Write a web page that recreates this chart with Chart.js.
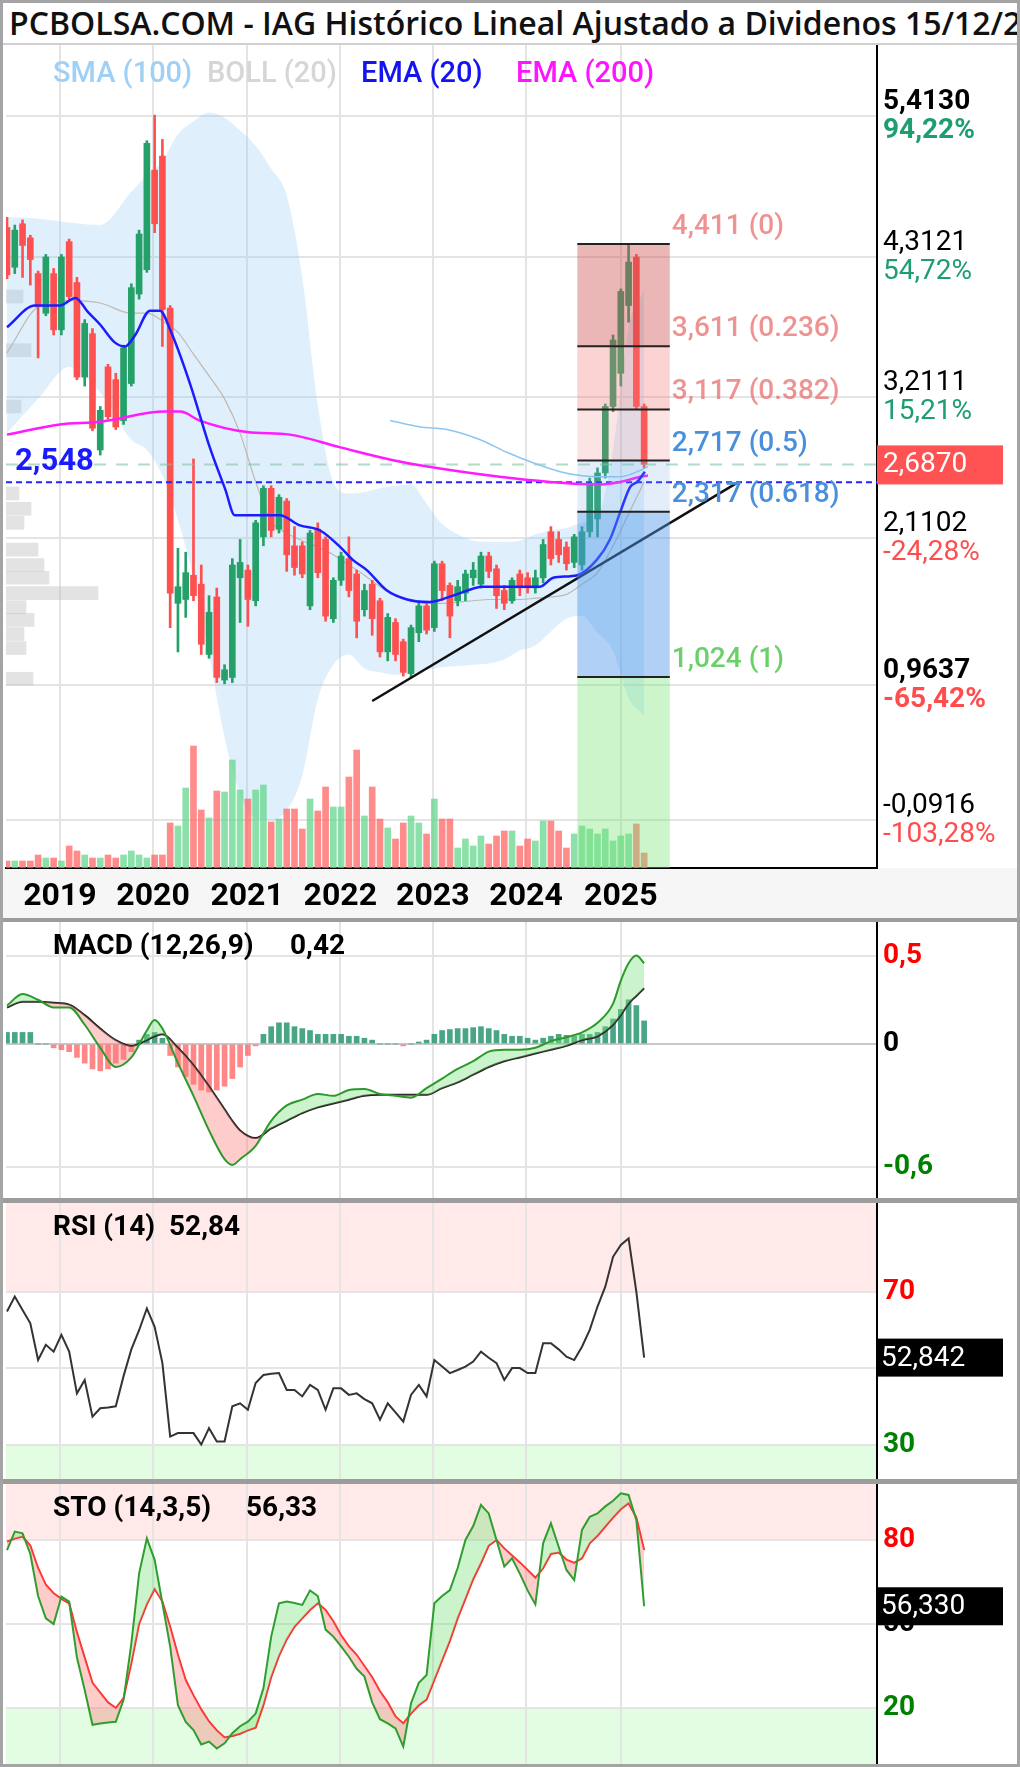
<!DOCTYPE html>
<html lang="es">
<head>
<meta charset="UTF-8">
<meta name="viewport" content="width=device-width, initial-scale=1.0">
<title>IAG Histórico Lineal Ajustado a Dividendos</title>
<script src="https://cdn.jsdelivr.net/npm/chart.js"></script>
<style>
  body { margin: 0; background: #fff; font-family: Roboto, sans-serif; }
  #page { position: relative; width: 1020px; height: 1767px; overflow: hidden; background: #fff; }
  #page > * { position: absolute; }
  #title { left: 0; top: 0; width: 1020px; height: 45px; box-sizing: border-box; padding-left: 9px;
           font: 600 32px/46px "Open Sans", sans-serif; color: #111; white-space: nowrap; overflow: hidden;
           border-bottom: 2px solid #d0d0d0; background: #fff; }
  .leg { top: 55px; font: 500 29px Roboto, sans-serif; white-space: nowrap; }
  .sep { left: 0; width: 1020px; background: #9c9c9c; }
  #xband { left: 0; top: 868px; width: 1020px; height: 50px; background: #f6f6f6; }
  #frame { left: 0; top: 0; width: 1020px; height: 1767px; box-sizing: border-box; border: 3px solid #a4a4a4; pointer-events: none; }
</style>
</head>
<body>
<div id="page">
  <div id="xband"></div>
  <canvas id="main" width="1020" height="873" style="top:45px;left:0"></canvas>
  <div class="sep" style="top:918px;height:4px"></div>
  <canvas id="macd" width="1020" height="276" style="top:922px;left:0"></canvas>
  <div class="sep" style="top:1198px;height:5px"></div>
  <canvas id="rsi" width="1020" height="276" style="top:1203px;left:0"></canvas>
  <div class="sep" style="top:1479px;height:5px"></div>
  <canvas id="sto" width="1020" height="280" style="top:1484px;left:0"></canvas>
  <div id="title">PCBOLSA.COM - IAG Histórico Lineal Ajustado a Dividenos 15/12/2025</div>
  <div class="leg" style="left:53px;color:#9fd0f6">SMA (100)</div>
  <div class="leg" style="left:207px;color:#d6d6d6">BOLL (20)</div>
  <div class="leg" style="left:361px;color:#1414f0">EMA (20)</div>
  <div class="leg" style="left:516px;color:#ff14ff">EMA (200)</div>
  <div id="frame"></div>
</div>

<script>
// monthly candles, index 0 = Jun 2018
const yearLabels  = ['2019', '2020', '2021', '2022', '2023', '2024', '2025'];
const yearTickIdx = [6.8, 18.8, 30.9, 42.9, 54.8, 66.8, 79.0];

const open = [4.54,4.23,4.57,4.46,4.18,3.87,4.18,3.74,4.43,4.11,
  3.37,3.71,2.80,3.45,3.35,3.03,3.32,4.02,4.21,4.99,
  5.10,3.91,1.60,1.63,1.82,1.75,1.20,1.65,1.00,1.02,
  1.80,1.86,1.62,2.12,2.50,2.18,2.40,2.05,2.05,1.58,
  2.18,2.10,1.48,1.78,1.95,1.83,1.55,1.75,1.62,1.22,
  1.45,1.30,1.05,1.37,1.58,1.41,1.91,1.74,1.62,1.68,
  1.80,1.75,1.97,1.87,1.70,1.62,1.83,1.80,1.72,1.80,
  2.16,2.10,2.04,1.92,1.90,2.16,2.26,2.62,3.14,3.40,
  3.93,4.31,3.14];
const high = [4.62,4.56,4.60,4.48,4.20,4.33,4.22,4.33,4.45,4.15,
  3.82,3.75,3.14,3.47,3.40,3.62,4.10,4.52,5.22,5.42,
  5.23,3.93,2.03,2.00,2.73,1.90,1.66,1.72,1.12,1.95,
  2.10,1.90,2.25,2.52,2.52,2.45,2.42,2.20,2.08,2.17,
  2.23,2.12,1.80,2.00,2.12,1.86,1.75,1.78,1.64,1.52,
  1.48,1.32,1.43,1.62,1.60,1.93,1.93,1.76,1.78,1.86,
  1.92,2.00,2.00,1.90,1.74,1.80,1.86,1.84,1.86,2.10,
  2.20,2.16,2.08,2.14,2.20,2.58,2.66,3.16,3.70,4.06,
  4.41,4.33,3.16];
const low = [4.14,4.18,4.15,4.09,3.52,3.85,3.70,3.70,3.98,3.35,
  3.30,2.95,2.76,3.04,2.96,3.00,3.30,3.98,4.19,4.50,
  3.61,1.41,1.22,1.49,1.62,1.20,1.17,0.98,0.97,0.98,
  1.45,1.42,1.58,2.05,2.12,2.15,1.85,1.82,1.80,1.55,
  1.80,1.46,1.45,1.74,1.65,1.33,1.50,1.35,1.18,1.15,
  1.15,1.03,1.02,1.30,1.36,1.38,1.62,1.33,1.58,1.62,
  1.74,1.72,1.80,1.56,1.55,1.60,1.66,1.68,1.68,1.76,
  1.90,1.92,1.86,1.88,1.86,2.12,2.12,2.58,3.10,3.30,
  3.80,3.12,2.66];
const close = [4.17,4.52,4.40,4.29,3.92,4.31,3.74,4.31,4.00,3.37,
  3.79,2.97,3.11,3.06,2.98,3.60,4.07,4.49,5.20,4.57,
  3.90,1.68,1.73,1.84,1.66,1.28,1.53,1.02,1.08,1.90,
  1.92,1.63,2.23,2.50,2.17,2.43,1.98,1.88,1.83,2.15,
  1.84,1.50,1.78,1.97,1.70,1.46,1.70,1.48,1.22,1.49,
  1.20,1.06,1.41,1.58,1.39,1.91,1.70,1.50,1.73,1.83,
  1.86,1.97,1.85,1.66,1.60,1.78,1.72,1.72,1.80,2.06,
  1.95,1.98,1.91,2.12,2.16,2.54,2.62,3.14,3.66,4.04,
  4.27,3.14,2.687];
// relative volume
const volume = [7,7,7,7,13,10,10,7,22,17,13,10,10,13,10,13,17,13,10,13,13,
  45,42,80,122,58,50,77,76,108,78,69,78,83,46,49,59,59,39,69,57,81,61,
  61,91,118,52,81,49,40,29,45,52,45,34,69,49,49,20,29,22,32,24,32,37,37,
  22,29,27,47,47,37,20,34,42,39,34,39,27,32,34,44,15];

// overlays: [candle index, price]
const ema20 = [[0,3.76],[3.6,3.93],[6.8,3.93],[8.8,3.99],[10.4,3.88],[12,3.78],[13.9,3.64],[15.2,3.61],
  [16.5,3.70],[18.4,3.89],[19.7,3.89],[21,3.74],[23.6,3.31],[26.1,2.82],[28.1,2.49],[29.3,2.29],
  [35.1,2.29],[37.7,2.21],[40.3,2.17],[42.9,2.04],[44.5,1.94],[46.3,1.86],[48.9,1.70],[51.5,1.63],
  [54.4,1.61],[57.4,1.66],[61.3,1.73],[68.6,1.73],[70.3,1.80],[73.4,1.82],[75.9,1.94],[77.6,2.10],
  [78.9,2.31],[80.2,2.51],[81.1,2.55],[82.1,2.63]];
const ema200 = [[0,2.92],[6.8,3.00],[12,3.02],[20.3,3.10],[22.3,3.10],[24.8,3.03],[30.9,2.94],
  [36.4,2.92],[42.9,2.82],[49.7,2.72],[54.1,2.67],[63.4,2.59],[69.9,2.55],[75.9,2.53],[78.9,2.55],
  [81.5,2.59],[82.5,2.60]];
const sma100 = [[49.3,3.03],[53.2,2.98],[56.6,2.96],[60.9,2.88],[64.4,2.78],[67.7,2.70],[71.2,2.63],
  [73.8,2.60],[76.3,2.59],[78.9,2.59],[81.5,2.64],[82.5,2.67]];

const bbIdx   = [0,4,8,12,16,18,20,22,24,26,28,30,32,34,36,38,40,42,44,46,48,50,52,54,56,58,60,62,64,66,68,70,72,74,76,78,80,82];
const bbUpper = [4.62,4.61,4.58,4.56,4.82,4.95,5.06,5.27,5.37,5.44,5.40,5.30,5.18,5.00,4.79,4.15,3.15,2.55,2.46,2.47,
  2.50,2.52,2.53,2.38,2.22,2.14,2.09,2.08,2.08,2.09,2.14,2.17,2.19,2.23,2.28,2.80,3.75,4.05];
const bbLower = [2.93,3.20,3.45,3.25,2.88,2.80,2.60,2.25,1.80,1.20,0.55,0.10,-0.08,-0.10,-0.02,0.25,0.85,1.12,1.20,1.09,
  1.06,1.04,1.05,1.08,1.10,1.11,1.12,1.13,1.16,1.23,1.27,1.38,1.48,1.50,1.37,1.23,0.86,0.72];
const bbMid   = [3.56,3.92,3.97,3.95,3.87,3.87,3.81,3.72,3.55,3.38,3.20,2.93,2.55,2.24,2.15,2.09,2.04,1.98,1.90,1.82,
  1.73,1.66,1.62,1.60,1.60,1.61,1.62,1.63,1.63,1.63,1.64,1.65,1.67,1.75,1.84,2.05,2.30,2.55];

// volume profile (price level, relative volume)
const profilePrice = [4.00,3.58,3.14,2.46,2.34,2.23,2.02,1.90,1.80,1.68,1.57,1.47,1.36,1.25,1.01];
const profileVol   = [17,25,15,13,25,18,32,38,43,92,20,28,18,20,27];

const trend = [[47.0,0.836],[93.9,2.541]];
const supportLevel = 2.548;
const lastPrice = 2.687;
const fibLevels = [4.411, 3.611, 3.117, 2.717, 2.317, 1.024];
const fibRatios = ['0', '0.236', '0.382', '0.5', '0.618', '1'];
const fibRange  = [73.4, 85.3];

const priceTicks = [5.413, 4.3121, 3.2111, 2.1102, 0.9637, -0.0916];
const pctTicks   = [94.22, 54.72, 15.21, -24.28, -65.42, -103.28];
const periodHigh = 5.413, periodLow = 0.9637;

// MACD (12,26,9)
const macdIdx = [0,2,4,6,8,10,12,14,16,18,19,20,22,24,26,28,29,30,32,34,36,38,40,42,44,46,48,50,52,54,
  56,58,60,62,64,66,68,70,72,74,76,78,79,80,81,82];
const macdVal = [0.20,0.26,0.23,0.19,0.19,0.10,-0.02,-0.12,-0.07,0.07,0.125,0.08,-0.10,-0.27,-0.45,-0.60,-0.63,-0.60,-0.53,-0.40,
  -0.32,-0.29,-0.26,-0.27,-0.24,-0.235,-0.26,-0.27,-0.28,-0.23,-0.18,-0.13,-0.09,-0.04,-0.03,-0.03,-0.02,0.015,0.035,0.06,
  0.11,0.21,0.33,0.42,0.46,0.42];
const signalVal = [0.19,0.22,0.22,0.215,0.205,0.15,0.08,0.02,-0.01,0.02,0.04,0.05,-0.02,-0.11,-0.22,-0.34,-0.40,-0.45,-0.49,-0.44,
  -0.40,-0.36,-0.33,-0.31,-0.29,-0.27,-0.265,-0.265,-0.265,-0.265,-0.23,-0.20,-0.16,-0.12,-0.09,-0.07,-0.05,-0.03,-0.01,0.02,
  0.04,0.10,0.15,0.21,0.25,0.29];
const hist = [0.06,0.06,0.06,0.06,0,0,-0.02,-0.03,-0.04,-0.07,
  -0.10,-0.13,-0.14,-0.13,-0.10,-0.08,-0.04,0.02,0.05,0.06,
  0.03,-0.06,-0.12,-0.17,-0.21,-0.24,-0.25,-0.24,-0.22,-0.18,
  -0.12,-0.06,-0.01,0.05,0.09,0.11,0.11,0.09,0.08,0.07,
  0.05,0.05,0.05,0.05,0.04,0.04,0.03,0.02,0,0,
  0,-0.01,0,0.01,0.02,0.05,0.07,0.075,0.08,0.08,
  0.085,0.09,0.08,0.07,0.05,0.04,0.04,0.03,0.02,0.03,
  0.04,0.05,0.045,0.04,0.05,0.05,0.06,0.09,0.13,0.18,
  0.23,0.20,0.12];
const macdTicks = [0.46, 0, -0.64];

// RSI (14)
const rsi = [64.9,68.8,65.3,61.8,52.2,56.2,54.4,58.8,54.4,43.5,
  47.0,37.4,39.6,39.8,40.1,48.0,55.0,60.0,65.7,60.9,
  51.4,32.2,33.1,33.1,33.1,30.1,34.4,30.9,30.9,40.1,
  40.9,39.2,46.2,48.3,48.6,48.8,44.4,44.4,42.7,45.7,
  44.4,39.2,44.8,44.8,43.1,43.5,42.0,40.9,36.6,40.9,
  38.5,36.1,43.1,45.7,42.7,52.2,50.5,48.8,49.6,50.5,
  51.8,54.4,52.8,51.4,47.0,50.1,50.1,48.8,48.8,56.6,
  56.6,55.0,53.1,52.2,55.7,60.1,66.2,71.4,79.2,82.3,
  84.0,70.0,52.842];
const rsiTicks = [70, 50, 30];

// STO (14,3,5)
const stoK = [76.4,83.0,82.4,75,60,52,50,59.8,58.0,38,
  26.4,14,14.5,14.8,15.1,22.9,43,68,80.6,72.9,
  57.4,41.9,21,15,12.1,7,8.0,5.5,7.4,11.0,
  13.5,15.1,18,27,45.5,57.4,58.0,57.5,56.8,62,
  60,48,45.5,42,38.3,34,31.2,22,16,14.5,
  12.7,6.2,21.7,29,31.8,57.4,60,62.1,70,80,
  85,92.5,89.5,80.0,70.5,73.5,68,62,57,78.8,
  86.0,77.6,69.3,65.7,83.6,88.3,89.5,92,94,96.7,
  96.1,87.1,56.33];
const stoD = [79.4,80.5,81.2,78,70,64,61,59,57.4,47,
  38,29,25.5,22,20,23.5,36,50,57,62.5,
  58,49,39,30,24.5,19.5,15.2,12,9.5,10,
  10.8,12,13,21,31,38.5,44.5,49,52,55,
  57.4,55,51,46,42,39,35,31,26,22,
  17,14.5,18,21,23,30,37,44,52,59,
  66,71.7,78,80,77,74.5,72,69.3,66.5,69.9,
  75,75.5,73,71.8,73.5,78.8,81.5,84.8,88,91,
  93.1,88,76.4];
const stoTicks = [80, 50, 20];

// ---------------------------------------------------------------
Chart.defaults.font.family = 'Roboto';
const X_MIN = -0.13, X_MAX = 111.97;
const GRID = '#e4e4e4';
const GREEN = '#26a069', RED = '#ff5050';
const fmt = (v, d) => v.toFixed(d).replace('.', ',');
const pts = arr => arr.map(([x, y]) => ({ x, y }));
const idx = close.map((_, i) => i);
const up = close.map((c, i) => c >= open[i]);

function xAxis(showLabels) {
  return {
    type: 'linear', min: X_MIN, max: X_MAX, offset: false,
    afterBuildTicks: s => { s.ticks = yearTickIdx.map(v => ({ value: v })); },
    afterFit: s => { s.height = showLabels ? 50 : 0; },
    grid: { color: GRID, lineWidth: 2, drawTicks: false, offset: false },
    border: { display: showLabels, color: '#000', width: 2 },
    ticks: { display: showLabels, autoSkip: false, maxRotation: 0, padding: 10, color: '#000',
             font: { size: 32, weight: 'bold' }, callback: (v, i) => yearLabels[i] }
  };
}
function yAxis(min, max, ticks, gridColor) {
  return {
    type: 'linear', position: 'right', min, max, offset: false,
    afterBuildTicks: s => { s.ticks = ticks.map(v => ({ value: v })); },
    afterFit: s => { s.width = 0; },
    ticks: { display: false },
    grid: { color: gridColor || GRID, lineWidth: 2, drawTicks: false, offset: false },
    border: { color: '#000', width: 2 }
  };
}
function line(data, color, width, order, extra) {
  return Object.assign({ type: 'line', data, borderColor: color, borderWidth: width, pointRadius: 0,
    cubicInterpolationMode: 'monotone', fill: false, order }, extra || {});
}
const base = {
  responsive: false, animation: false, events: [],
  layout: { padding: { left: 6, right: 143, top: 0, bottom: 0 } },
  plugins: { legend: { display: false }, tooltip: { enabled: false } }
};

// ---------------- main price chart ----------------
const fibZone = ['rgba(205,80,80,0.42)', 'rgba(245,120,120,0.33)', 'rgba(245,120,120,0.2)',
                 'rgba(120,170,230,0.2)', 'rgba(80,150,235,0.45)'];
const fibText = ['rgba(232,110,110,0.75)', 'rgba(232,110,110,0.75)', 'rgba(232,110,110,0.75)',
                 '#4a8fdc', '#4a8fdc', 'rgba(80,200,80,0.85)'];

const mainDeco = {
  id: 'mainDeco',
  afterDatasetsDraw(chart) {
    const { ctx, chartArea: a, scales: { x, y } } = chart;
    const x0 = x.getPixelForValue(fibRange[0]), x1 = x.getPixelForValue(fibRange[1]);
    const ys = fibLevels.map(v => y.getPixelForValue(v));
    ctx.save();
    for (let k = 0; k < ys.length - 1; k++) {
      ctx.fillStyle = fibZone[k];
      ctx.fillRect(x0, ys[k], x1 - x0, ys[k + 1] - ys[k]);
    }
    ctx.fillStyle = 'rgba(120,230,120,0.38)';
    ctx.fillRect(x0, ys[ys.length - 1], x1 - x0, a.bottom - ys[ys.length - 1]);
    ctx.strokeStyle = '#222'; ctx.lineWidth = 2;
    ys.forEach(py => { ctx.beginPath(); ctx.moveTo(x0, py); ctx.lineTo(x1, py); ctx.stroke(); });
    ctx.font = '500 28px Roboto'; ctx.textBaseline = 'middle'; ctx.textAlign = 'left';
    fibLevels.forEach((v, k) => {
      ctx.fillStyle = fibText[k];
      ctx.fillText(fmt(v, 3) + ' (' + fibRatios[k] + ')', x1 + 2, ys[k] - 17);
    });
    ctx.font = 'bold 31px Roboto'; ctx.fillStyle = '#1a1aff';
    ctx.fillText(fmt(supportLevel, 3), a.left + 9, y.getPixelForValue(supportLevel) - 20);
    ctx.restore();
  },
  afterDraw(chart) {
    const { ctx, chartArea: a, scales: { y } } = chart;
    ctx.save();
    ctx.textAlign = 'left'; ctx.textBaseline = 'middle';
    priceTicks.forEach((v, k) => {
      const py = y.getPixelForValue(v);
      const bold = (v === periodHigh || v === periodLow) ? 'bold ' : '';
      ctx.font = bold + '28px Roboto';
      ctx.fillStyle = '#000';
      ctx.fillText(fmt(v, 4), a.right + 6, py - 14);
      ctx.fillStyle = pctTicks[k] >= 0 ? '#1e9e6e' : '#ff4d4d';
      ctx.fillText(fmt(pctTicks[k], 2) + '%', a.right + 6, py + 15);
    });
    const py = y.getPixelForValue(lastPrice);
    ctx.fillStyle = '#ff5252';
    ctx.fillRect(a.right, py - 19, 126, 39);
    ctx.fillStyle = '#fff'; ctx.font = '28px Roboto';
    ctx.fillText(fmt(lastPrice, 4), a.right + 6, py + 1);
    ctx.restore();
  }
};

new Chart(document.getElementById('main'), {
  type: 'bar',
  data: { datasets: [
    line(pts(ema20), '#1c1cff', 2.5, 1),
    line(pts(ema200), '#ff1aff', 2.5, 1),
    line(pts(sma100), '#8cc6f2', 1.5, 1),
    line(pts(trend), '#111', 2.5, 1, { cubicInterpolationMode: 'default' }),
    line([{ x: X_MIN, y: supportLevel }, { x: X_MAX, y: supportLevel }], '#2424ff', 2, 1, { borderDash: [6, 4] }),
    line([{ x: X_MIN, y: lastPrice }, { x: X_MAX, y: lastPrice }], 'rgba(130,195,160,0.6)', 2, 1, { borderDash: [12, 10] }),
    { data: idx.map(i => ({ x: i, y: [open[i], close[i]] })), backgroundColor: up.map(u => u ? GREEN : RED),
      barThickness: 6, grouped: false, order: 2 },
    { data: idx.map(i => ({ x: i, y: [low[i], high[i]] })), backgroundColor: up.map(u => u ? GREEN : RED),
      barThickness: 2, grouped: false, order: 3 },
    { yAxisID: 'yv', data: idx.map(i => ({ x: i, y: volume[i] })),
      backgroundColor: up.map(u => u ? 'rgba(100,215,140,0.75)' : 'rgba(255,100,100,0.75)'),
      barThickness: 6, grouped: false, order: 4 },
    line(bbIdx.map((x, k) => ({ x, y: bbMid[k] })), 'rgba(185,170,160,0.8)', 1.2, 5),
    line(bbIdx.map((x, k) => ({ x, y: bbUpper[k] })), 'rgba(0,0,0,0)', 0, 6,
      { fill: '+1', backgroundColor: 'rgba(150,205,245,0.3)' }),
    line(bbIdx.map((x, k) => ({ x, y: bbLower[k] })), 'rgba(0,0,0,0)', 0, 6),
    { indexAxis: 'y', xAxisID: 'xp', data: profilePrice.map((p, k) => ({ x: [0, profileVol[k]], y: p })),
      backgroundColor: 'rgba(185,185,185,0.4)', barThickness: 13, grouped: false, order: 7 }
  ]},
  options: Object.assign({}, base, {
    scales: {
      x: xAxis(true),
      xp: { type: 'linear', display: false, min: 0, max: 871, offset: false },
      y: yAxis(-0.471, 5.9687, priceTicks),
      yv: { type: 'linear', display: false, min: 0, max: 823, offset: false }
    }
  }),
  plugins: [mainDeco]
});

// ---------------- indicator panels ----------------
function panelDeco(o) {
  return {
    id: 'panelDeco',
    beforeDraw(chart) {
      if (!o.bands) return;
      const { ctx, chartArea: a, scales: { y } } = chart;
      const yHi = y.getPixelForValue(o.bands[0]), yLo = y.getPixelForValue(o.bands[1]);
      ctx.save();
      ctx.fillStyle = '#ffe9e9'; ctx.fillRect(a.left, a.top, a.right - a.left, yHi - a.top);
      ctx.fillStyle = '#e2fde2'; ctx.fillRect(a.left, yLo, a.right - a.left, a.bottom - yLo);
      ctx.restore();
    },
    afterDraw(chart) {
      const { ctx, chartArea: a, scales: { y } } = chart;
      ctx.save();
      ctx.textAlign = 'left'; ctx.textBaseline = 'middle';
      ctx.font = 'bold 28px Roboto'; ctx.fillStyle = '#000';
      ctx.fillText(o.name, 53, 25);
      ctx.fillText(o.value, o.valueX, 25);
      const colors = ['#ff0000', '#000', '#008000'];
      o.ticks.forEach((v, k) => {
        ctx.fillStyle = colors[k];
        ctx.fillText(o.tickFmt(v), a.right + 6, y.getPixelForValue(v));
      });
      if (o.box !== undefined) {
        const py = y.getPixelForValue(o.box);
        ctx.fillStyle = '#000'; ctx.fillRect(a.right, py - 19, 126, 38);
        ctx.fillStyle = '#fff'; ctx.font = '28px Roboto';
        ctx.fillText(fmt(o.box, 3), a.right + 4, py + 1);
      }
      ctx.restore();
    }
  };
}

new Chart(document.getElementById('macd'), {
  type: 'bar',
  data: { datasets: [
    line(macdIdx.map((x, k) => ({ x, y: macdVal[k] })), '#2b9a2b', 2, 1,
      { fill: { target: '+1', above: 'rgba(120,225,120,0.38)', below: 'rgba(255,120,120,0.38)' } }),
    line(macdIdx.map((x, k) => ({ x, y: signalVal[k] })), '#222', 2, 1),
    { data: idx.map(i => ({ x: i, y: hist[i] })),
      backgroundColor: hist.map(v => v >= 0 ? 'rgba(40,150,110,0.85)' : 'rgba(255,95,95,0.75)'),
      barThickness: 5, grouped: false, order: 2 }
  ]},
  options: Object.assign({}, base, {
    scales: {
      x: xAxis(false),
      y: yAxis(-0.802, 0.635, macdTicks, c => c.tick && c.tick.value === 0 ? '#c8c8c8' : GRID)
    }
  }),
  plugins: [panelDeco({ name: 'MACD (12,26,9)', value: fmt(macdVal[macdVal.length - 1], 2), valueX: 290,
    ticks: macdTicks, tickFmt: v => v === 0 ? '0' : fmt(v, 1) })]
});

new Chart(document.getElementById('rsi'), {
  type: 'line',
  data: { datasets: [ line(idx.map(i => ({ x: i, y: rsi[i] })), '#333', 2, 1, { cubicInterpolationMode: 'default' }) ] },
  options: Object.assign({}, base, {
    scales: { x: xAxis(false), y: yAxis(21.1, 93.27, rsiTicks) }
  }),
  plugins: [panelDeco({ name: 'RSI (14)', value: fmt(rsi[rsi.length - 1], 2), valueX: 169, ticks: rsiTicks,
    tickFmt: v => String(v), bands: [70, 30], box: rsi[rsi.length - 1] })]
});

new Chart(document.getElementById('sto'), {
  type: 'line',
  data: { datasets: [
    line(idx.map(i => ({ x: i, y: stoK[i] })), '#2e9e2e', 2, 1,
      { cubicInterpolationMode: 'default', fill: { target: '+1', above: 'rgba(120,225,120,0.38)', below: 'rgba(255,120,120,0.38)' } }),
    line(idx.map(i => ({ x: i, y: stoD[i] })), '#ff2a2a', 2, 1, { cubicInterpolationMode: 'default' })
  ]},
  options: Object.assign({}, base, {
    scales: { x: xAxis(false), y: yAxis(0, 100, stoTicks) }
  }),
  plugins: [panelDeco({ name: 'STO (14,3,5)', value: fmt(stoK[stoK.length - 1], 2), valueX: 246, ticks: stoTicks,
    tickFmt: v => String(v), bands: [80, 20], box: stoK[stoK.length - 1] })]
});
</script>
</body>
</html>
